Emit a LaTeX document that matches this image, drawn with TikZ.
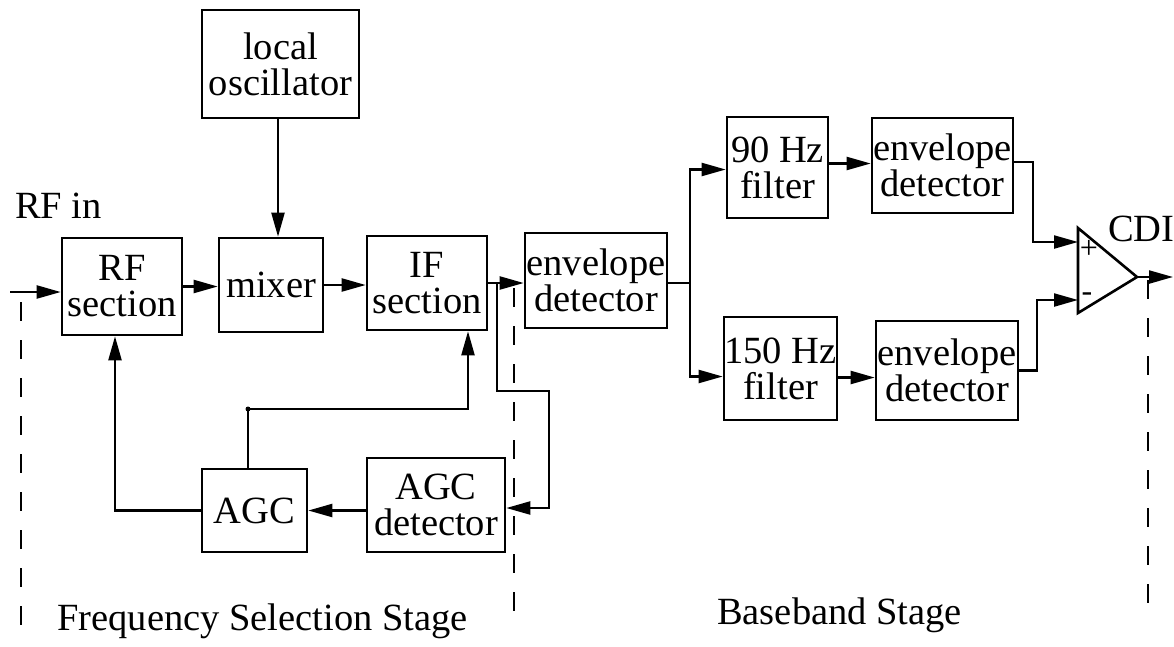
\documentclass[tikz,border=0pt]{standalone}
\usepackage{fontspec}
\setmainfont{Liberation Serif}
\usetikzlibrary{arrows.meta,calc}
\begin{document}
\begin{tikzpicture}[x=1pt,y=-1pt,
  blk/.style={draw,line width=2.6pt,inner sep=0pt,align=center,
    font=\fontsize{38.5}{36}\selectfont},
  lbl/.style={inner sep=0pt,font=\fontsize{38.5}{40}\selectfont},
  conn/.style={line width=2.2pt},
  arr/.style={conn,-{Triangle[length=24pt,width=13pt]}},
  stage/.style={line width=2.6pt,dash pattern=on 19pt off 19pt}]
\useasboundingbox (0,0) rectangle (1174,646);
% blocks
\node[blk,minimum width=157pt,minimum height=108pt] (osc) at (280.5,64) {local\\oscillator};
\node[blk,minimum width=120pt,minimum height=97pt] (rf) at (122,286.5) {RF\\section};
\node[blk,minimum width=104pt,minimum height=94pt] (mix) at (271,285) {mixer};
\node[blk,minimum width=120pt,minimum height=94pt] (ifs) at (427,283) {IF\\section};
\node[blk,minimum width=142pt,minimum height=95pt] (env) at (596,280.5) {envelope\\detector};
\node[blk,minimum width=138pt,minimum height=94pt] (agcd) at (436,505) {AGC\\detector};
\node[blk,minimum width=105pt,minimum height=83pt] (agc) at (254.5,510.5) {AGC};
\node[blk,minimum width=101pt,minimum height=101pt] (f90) at (777.5,167.5) {90 Hz\\filter};
\node[blk,minimum width=141pt,minimum height=95pt] (envA) at (942.5,165.5) {envelope\\detector};
\node[blk,minimum width=113pt,minimum height=103pt] (f150) at (780.5,368.5) {150 Hz\\filter};
\node[blk,minimum width=142pt,minimum height=99pt] (envB) at (947,370.5) {envelope\\detector};
% op amp
\coordinate (opT) at (1078,228);
\coordinate (opB) at (1078,313);
\coordinate (opO) at (1137,277);
\coordinate (opP) at (1078,242);
\coordinate (opM) at (1078,300);
\draw[line width=2.6pt,line join=miter] (opT) -- (opO) -- (opB) -- cycle;
\node[inner sep=0pt,font=\fontsize{32}{32}\selectfont] (plus) at (1089,249) {+};
\node[inner sep=0pt,font=\fontsize{32}{32}\selectfont] (minus) at (1087,297) {-};
% labels
\node[lbl,anchor=base west] (rfin) at (15,218) {RF in};
\node[lbl,anchor=base west] (cdi) at (1108,241) {CDI};
\node[lbl,anchor=base west] (fss) at (57,630) {Frequency Selection Stage};
\node[lbl,anchor=base west] (bbs) at (717,624) {Baseband Stage};
% connectors
\coordinate (inS) at (10,292);
\draw[arr] (inS) -- (inS -| rf.west);
\draw[arr] (rf.east) -- (rf.east -| mix.west);
\draw[arr] (mix.east) -- (mix.east -| ifs.west);
\draw[arr] ([xshift=-2.5pt]osc.south) -- ([xshift=-2.5pt]osc.south |- mix.north);
\draw[arr] (ifs.east) -- (ifs.east -| env.west);
\coordinate (b1) at (497,283);
\coordinate (b1a) at (497,391);
\coordinate (b1b) at (549,391);
\draw[arr] (b1) -- (b1a) -- (b1b) |- ([yshift=-3pt]agcd.east);
\draw[arr] (agcd.west |- agc.east) -- (agc.east);
\draw[arr] (agc.west) -| ([xshift=-7pt]rf.south);
\coordinate (jn) at (248,409);
\draw[arr] (jn |- agc.north) -- (jn) -| ([xshift=41pt]ifs.south);
\fill (jn) circle (2.5pt);
\coordinate (b2) at (690,283);
\draw[conn] (env.east |- b2) -- (b2);
\draw[arr] (b2) |- ([yshift=-2pt]f90.west);
\draw[arr] (b2) |- ([yshift=-8pt]f150.west);
\draw[arr] ([yshift=4pt]f90.east) -- ([yshift=4pt]f90.east -| envA.west);
\draw[arr] ([yshift=-9pt]f150.east) -- ([yshift=-9pt]f150.east -| envB.west);
\coordinate (kA) at (1033,162);
\draw[arr] (envA.east |- kA) -- (kA) |- (opP);
\coordinate (kB) at (1037,370.5);
\draw[arr] (envB.east) -- (kB) |- (opM);
\coordinate (out) at (1173,277);
\draw[arr] (opO) -- (out);
% stage separators
\coordinate (dL1) at (21,302); \coordinate (dL2) at (21,640);
\coordinate (dM1) at (514,288); \coordinate (dM2) at (514,616);
\coordinate (dR1) at (1148,280); \coordinate (dR2) at (1148,603);
\draw[stage] (dL1) -- (dL2);
\draw[stage] (dM1) -- (dM2);
\draw[stage] (dR1) -- (dR2);
\end{tikzpicture}
\end{document}
